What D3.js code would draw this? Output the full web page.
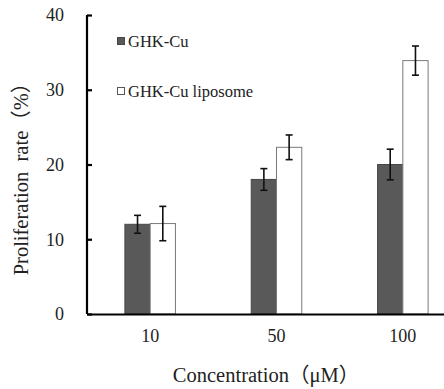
<!DOCTYPE html>
<html>
<head>
<meta charset="utf-8">
<script src="https://cdn.jsdelivr.net/npm/d3@7"></script>
<style>
  body { margin: 0; background: #fff; }
  text { font-family: "Liberation Serif", "Noto Sans CJK SC", serif; fill: #222; }
</style>
</head>
<body>
<div id="chart"></div>
<script>
// data
var concentrations = ["10", "50", "100"];
var seriesNames = ["GHK-Cu", "GHK-Cu liposome"];
var ghkCu = [12.0, 18.0, 20.0];
var ghkCuErr = [1.2, 1.45, 2.05];
var liposome = [12.1, 22.3, 33.9];
var liposomeErr = [2.3, 1.65, 1.95];
var yTicks = [0, 10, 20, 30, 40];

var svgWidth = 444;
var svgHeight = 389;

var margin = { top: 15, right: -22, bottom: 75, left: 87 };
var width = svgWidth - margin.left - margin.right;
var height = svgHeight - margin.top - margin.bottom;

var svg = d3.select("#chart")
  .append("svg")
  .attr("width", svgWidth)
  .attr("height", svgHeight);

var chartGroup = svg.append("g")
  .attr("transform", `translate(${margin.left}, ${margin.top})`);

// scales
var x0 = d3.scaleBand().domain(concentrations).range([0, width]).paddingInner(0).paddingOuter(0);
var x1 = d3.scaleBand().domain(seriesNames).range([0, x0.bandwidth() * 0.4]);
var y = d3.scaleLinear().domain([0, 40]).range([height, 0]);

var rows = concentrations.map(function(c, i) {
  return [
    { key: seriesNames[0], c: c, v: ghkCu[i], e: ghkCuErr[i] },
    { key: seriesNames[1], c: c, v: liposome[i], e: liposomeErr[i] }
  ];
});

var fills = { "GHK-Cu": "#595959", "GHK-Cu liposome": "#ffffff" };
var strokes = { "GHK-Cu": "#474747", "GHK-Cu liposome": "#7a7a7a" };

var groups = chartGroup.selectAll(".grp")
  .data(rows)
  .enter()
  .append("g")
  .attr("transform", d => `translate(${x0(d[0].c) + x0.bandwidth() * 0.3}, 0)`);

groups.selectAll("rect")
  .data(d => d)
  .enter()
  .append("rect")
  .attr("x", d => x1(d.key))
  .attr("y", d => y(d.v))
  .attr("width", x1.bandwidth())
  .attr("height", d => height - y(d.v))
  .attr("fill", d => fills[d.key])
  .attr("stroke", d => strokes[d.key])
  .attr("stroke-width", 1);

// error bars
var errs = groups.selectAll(".err")
  .data(d => d)
  .enter()
  .append("g")
  .attr("stroke", "#111")
  .attr("stroke-width", 1.6);

errs.append("line")
  .attr("x1", d => x1(d.key) + x1.bandwidth() / 2)
  .attr("x2", d => x1(d.key) + x1.bandwidth() / 2)
  .attr("y1", d => y(d.v + d.e))
  .attr("y2", d => y(d.v - d.e));
[1, -1].forEach(function(s) {
  errs.append("line")
    .attr("x1", d => x1(d.key) + x1.bandwidth() / 2 - 3.5)
    .attr("x2", d => x1(d.key) + x1.bandwidth() / 2 + 3.5)
    .attr("y1", d => y(d.v + s * d.e))
    .attr("y2", d => y(d.v + s * d.e));
});

// y axis
var leftAxis = d3.axisLeft(y).tickValues(yTicks).tickSize(-5).tickPadding(23);
var yAxis = chartGroup.append("g").call(leftAxis);
yAxis.select(".domain").attr("stroke", "#000").attr("stroke-width", 2.2).attr("d", `M0,0V${height}`);
yAxis.selectAll(".tick line").attr("stroke", "#000").attr("stroke-width", 2.2);
yAxis.selectAll(".tick text")
  .style("font-family", "Liberation Serif")
  .style("font-size", "18px")
  .attr("fill", "#333");

// x axis
var bottomAxis = d3.axisBottom(x0).tickSize(0).tickPadding(15);
var xAxis = chartGroup.append("g")
  .attr("transform", `translate(0, ${height})`)
  .call(bottomAxis);
xAxis.select(".domain").attr("stroke", "#000").attr("stroke-width", 2.2);
xAxis.selectAll(".tick text")
  .style("font-family", "Liberation Serif")
  .style("font-size", "18px")
  .attr("fill", "#333");

// axis titles
svg.append("text")
  .attr("transform", "rotate(-90)")
  .attr("x", -174)
  .attr("y", 28)
  .attr("text-anchor", "middle")
  .style("font-size", "20.5px")
  .attr("fill", "#222")
  .text("Proliferation\u00a0\u00a0rate（%）");

svg.append("text")
  .attr("x", 266)
  .attr("y", 382)
  .attr("text-anchor", "middle")
  .style("font-size", "20.5px")
  .attr("fill", "#222")
  .text("Concentration（μM）");

// legend
var legend = svg.append("g");
seriesNames.forEach(function(name, i) {
  var ly = 37 + i * 50;
  legend.append("rect")
    .attr("x", 117.5)
    .attr("y", ly + 0.5)
    .attr("width", 7)
    .attr("height", 7)
    .attr("fill", fills[name])
    .attr("stroke", i === 0 ? "#474747" : "#555")
    .attr("stroke-width", 1);
  legend.append("text")
    .attr("x", 128)
    .attr("y", ly + 9.5)
    .style("font-size", "16.5px")
    .attr("fill", "#222")
    .text(name);
});
</script>
</body>
</html>
